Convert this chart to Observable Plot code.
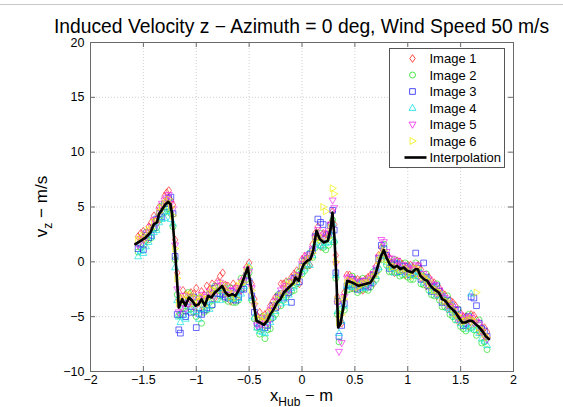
<!DOCTYPE html>
<html>
<head>
<meta charset="utf-8">
<script src="https://cdn.jsdelivr.net/npm/d3@7"></script>
<script src="https://cdn.jsdelivr.net/npm/@observablehq/plot@0.6"></script>
<style>
  html, body { margin: 0; padding: 0; background: #fff; }
  #wrap { position: relative; width: 563px; height: 407px; overflow: hidden; }
  #topline { position: absolute; left: 0; top: 4px; width: 563px; height: 1px; background: #c8c8c8; z-index: 2; }
  svg text { font-family: "Liberation Sans", Arial, Helvetica, sans-serif; }
</style>
</head>
<body>
<div id="wrap"><div id="topline"></div></div>
<script>
// ---------- data ----------
const titleText = "Induced Velocity z \u2212 Azimuth = 0 deg, Wind Speed 50 m/s";
const seriesNames = ["Image 1", "Image 2", "Image 3", "Image 4", "Image 5", "Image 6"];
const lineName = "Interpolation";

const xTicks = [-2, -1.5, -1, -0.5, 0, 0.5, 1, 1.5, 2];
const yTicks = [-10, -5, 0, 5, 10, 15, 20];

// measurement stations, set A (x_Hub, m)
const xs = [-1.55,-1.50,-1.45,-1.40,-1.35,-1.30,-1.26,-1.22,-1.18,-1.15,-1.10,-1.05,-1.00,-0.95,-0.90,-0.85,-0.80,-0.75,-0.70,-0.65,-0.60,-0.55,-0.50,-0.45,-0.40,-0.35,-0.30,-0.25,-0.20,-0.15,-0.10,-0.05,0.00,0.05,0.10,0.15,0.20,0.25,0.29,0.32,0.35,0.40,0.45,0.50,0.55,0.60,0.65,0.70,0.75,0.80,0.85,0.90,0.95,1.00,1.05,1.10,1.15,1.20,1.25,1.30,1.35,1.40,1.45,1.50,1.55,1.60,1.65,1.70,1.75];
// measurement stations, set B (x_Hub, m)
const xsB = [-1.525,-1.475,-1.425,-1.375,-1.325,-1.28,-1.24,-1.20,-1.165,-1.125,-1.075,-1.025,-0.975,-0.925,-0.875,-0.825,-0.775,-0.725,-0.675,-0.625,-0.575,-0.525,-0.475,-0.425,-0.375,-0.325,-0.275,-0.225,-0.175,-0.125,-0.075,-0.025,0.025,0.075,0.125,0.175,0.225,0.27,0.305,0.335,0.375,0.425,0.475,0.525,0.575,0.625,0.675,0.725,0.775,0.825,0.875,0.925,0.975,1.025,1.075,1.125,1.175,1.225,1.275,1.325,1.375,1.425,1.475,1.525,1.575,1.625,1.675,1.725];

const image1 = [2.3,2.8,3.2,4.2,5.0,6.0,6.5,5.2,-1.0,-3.3,-3.0,-2.8,-2.4,-2.7,-2.2,-2.0,-1.8,-1.0,-2.2,-2.0,-2.6,-1.4,-0.1,-3.4,-4.6,-4.8,-4.0,-3.2,-2.0,-1.8,-1.4,-0.8,0.2,-0.3,1.6,3.2,2.6,2.4,4.6,0.6,-5.0,-2.8,-1.2,-1.6,-1.7,-1.6,-1.2,-0.4,1.3,0.6,-0.1,0.1,-0.2,-0.3,-0.5,-0.3,-1.3,-1.4,-1.9,-2.4,-3.0,-3.5,-4.0,-4.7,-5.0,-4.8,-5.3,-6.0,-6.4];
const image2 = [0.9,1.5,2.0,3.0,3.8,4.5,5.0,3.2,-3.0,-4.8,-4.5,-4.3,-5.0,-5.6,-4.4,-4.0,-3.4,-2.8,-3.6,-3.7,-3.5,-2.4,-1.0,-5.2,-6.6,-7.0,-6.1,-4.8,-4.0,-3.2,-2.7,-2.0,-1.1,-0.4,0.4,2.2,1.3,1.5,3.8,-1.5,-7.3,-4.4,-2.5,-2.5,-2.6,-2.5,-2.3,-1.6,0.2,-0.3,-0.9,-1.0,-1.2,-1.4,-1.6,-1.3,-2.1,-2.6,-3.1,-3.5,-4.1,-4.8,-5.3,-5.9,-6.3,-6.0,-6.7,-7.4,-8.0];
const image3 = [1.2,1.1,2.2,3.1,4.4,5.3,5.8,4.4,-4.8,-6.5,-5.0,-4.6,-6.0,-4.8,-4.2,-3.9,-2.9,-3.0,-3.3,-3.4,-3.2,-2.5,-1.8,-4.6,-5.9,-6.0,-5.2,-4.2,-2.9,-2.5,-3.7,-1.4,-0.4,0.3,1.0,3.9,3.4,2.5,4.7,-1.0,-6.8,-3.8,-2.1,-2.1,-2.3,-2.2,-1.9,-0.8,1.5,0.6,-0.3,-0.2,-0.7,-0.9,-1.0,-0.6,-0.1,-2.2,-2.3,-2.7,-3.6,-4.0,-4.4,-5.2,-5.6,-3.2,-4.0,-6.1,-6.8];
const image4 = [0.5,0.8,1.8,2.7,3.6,4.0,4.6,3.5,-3.5,-5.5,-5.2,-4.0,-4.5,-4.3,-4.0,-3.5,-2.6,-2.7,-3.1,-3.4,-3.3,-2.2,-0.4,-5.0,-6.3,-6.5,-5.5,-4.5,-3.8,-3.7,-2.4,-1.9,-0.9,-0.2,0.6,1.5,1.4,1.8,3.5,-1.2,-6.5,-4.0,-2.0,-2.2,-2.0,-2.3,-2.0,-1.3,0.5,0.0,-0.6,-0.7,-0.9,-1.0,-1.2,-0.9,-1.9,-1.7,-2.4,-3.1,-3.2,-4.4,-5.0,-5.6,-5.8,-2.9,-6.2,-7.0,-7.6];
const image5 = [1.5,2.0,2.7,3.8,4.7,5.6,6.1,4.8,-2.5,-4.2,-4.3,-3.2,-3.6,-3.0,-3.2,-2.8,-2.2,-2.1,-2.7,-2.6,-2.4,-1.7,-0.9,-4.0,-5.7,-5.4,-4.4,-3.6,-2.6,-2.2,-1.8,-1.2,-0.2,0.6,1.2,2.9,2.2,2.8,5.6,-0.2,-8.2,-3.2,-1.4,-1.8,-1.9,-1.7,-1.5,-0.6,2.0,0.9,0.3,0.1,-0.3,-0.5,-0.7,-0.4,-1.1,-1.6,-2.1,-2.6,-3.3,-3.8,-4.3,-4.9,-5.2,-5.1,-5.5,-6.4,-7.1];
const image6 = [2.0,2.4,2.9,3.6,4.5,5.3,5.7,4.2,-1.5,-3.6,-3.5,-3.0,-3.3,-3.2,-3.4,-2.6,-2.4,-2.0,-2.8,-2.9,-2.2,-1.9,-0.5,-3.8,-5.2,-5.0,-4.6,-3.9,-3.1,-2.5,-2.0,-1.3,-0.5,0.2,0.8,2.4,5.0,2.2,6.7,0.0,-5.5,-3.4,-1.7,-2.0,-2.2,-1.9,-1.7,-1.1,0.6,0.2,-0.5,-0.6,-0.8,-1.1,-1.3,-0.6,-1.4,-1.8,-2.6,-2.8,-3.6,-3.9,-4.7,-5.1,-5.4,-5.2,-2.8,-6.2,-6.9];

const image1B = [2.6,1.9,3.6,3.9,4.3,6.3,5.6,2.0,-3.5,-2.6,-3.9,-2.9,-4.3,-3.0,-2.5,-3.3,-1.3,-2.1,-3.6,-2.3,-2.6,-0.5,-2.0,-4.9,-6.2,-4.6,-3.6,-4.1,-2.0,-2.9,-1.1,-2.0,0.5,-0.3,2.6,1.4,2.5,3.5,3.4,-3.2,-5.6,-1.2,-2.4,-1.6,-2.6,-1.4,-2.0,0.6,0.5,0.4,-1.0,0.0,-1.2,-0.3,-1.1,-0.7,-2.2,-1.8,-3.1,-2.8,-4.3,-3.7,-5.4,-5.0,-5.9,-4.9,-6.4,-6.0];
const image2B = [1.3,2.7,2.2,3.1,5.1,4.8,4.4,0.2,-4.9,-4.2,-2.8,-4.6,-3.3,-4.6,-3.7,-2.2,-3.1,-3.4,-2.4,-3.7,-1.5,-1.6,-3.5,-6.0,-5.0,-6.2,-5.1,-3.0,-3.5,-1.8,-2.6,-0.9,-0.8,0.8,1.3,2.6,1.1,2.4,1.8,-4.8,-4.3,-2.6,-1.3,-2.8,-1.5,-2.6,-0.9,-0.7,1.6,-0.9,0.2,-1.3,-0.1,-1.6,-0.1,-2.0,-1.1,-3.0,-2.0,-4.1,-3.1,-5.0,-4.3,-6.1,-4.8,-6.2,-5.3,-7.3];
const image3B = [1.6,2.4,2.4,3.9,4.1,5.0,5.9,0.5,-6.2,-4.8,-3.6,-3.2,-4.7,-4.4,-3.0,-2.4,-2.9,-3.2,-2.7,-3.5,-2.5,-1.2,-3.1,-5.6,-5.3,-5.8,-4.0,-3.2,-3.3,-2.8,-1.5,-1.8,0.1,0.7,2.3,3.6,2.2,3.3,2.9,-3.6,-5.8,-2.2,-1.6,-2.5,-1.8,-2.3,-1.2,0.3,1.2,-0.6,-0.1,-0.9,-0.4,-1.2,0.8,-1.6,-1.4,-2.7,-2.2,-3.7,-3.5,-4.6,-4.4,-5.8,-5.0,-3.3,-5.6,-6.3];
const image4B = [1.0,1.4,2.3,2.9,3.9,4.6,3.9,-0.5,-5.0,-3.9,-4.4,-3.3,-5.2,-3.6,-4.3,-2.9,-3.5,-2.3,-3.3,-2.8,-2.9,-1.3,-3.3,-6.0,-6.4,-4.9,-5.0,-3.5,-3.2,-3.0,-2.2,-1.1,-0.6,-0.3,1.6,1.5,1.7,2.5,2.0,-4.5,-5.4,-2.2,-2.3,-1.9,-2.4,-1.7,-1.8,-0.5,0.6,-0.4,-1.0,-0.2,-1.1,-0.5,-1.3,-1.0,-1.5,-2.6,-3.0,-3.0,-4.2,-3.9,-5.3,-5.2,-6.1,-5.9,-6.5,-7.2];
const image5B = [2.1,2.6,3.2,3.4,5.3,5.8,5.3,1.5,-4.6,-3.1,-3.8,-4.1,-3.4,-3.6,-2.7,-3.1,-1.9,-3.0,-2.6,-2.4,-1.8,-0.7,-2.4,-5.8,-5.1,-5.6,-4.2,-3.3,-2.4,-2.6,-1.6,-1.3,0.3,0.4,2.2,2.4,2.6,3.4,4.9,-3.8,-7.4,-1.5,-1.7,-2.3,-1.8,-2.2,-1.1,0.4,1.8,0.3,-0.4,-0.5,-0.9,-0.6,-0.3,-1.5,-1.9,-2.0,-2.9,-3.1,-4.0,-4.1,-5.2,-5.3,-5.1,-5.6,-5.7,-6.8];
const image6B = [2.2,2.1,3.0,3.7,4.9,5.5,5.0,1.2,-3.8,-3.3,-3.0,-3.8,-3.6,-4.0,-2.9,-2.6,-2.6,-2.5,-3.2,-3.3,-2.0,-0.9,-2.6,-5.1,-5.4,-5.3,-4.3,-3.4,-2.9,-2.1,-1.9,-1.4,-0.1,0.3,2.0,2.0,4.6,3.1,6.2,-3.5,-4.8,-1.9,-1.8,-2.3,-2.0,-1.9,-1.4,0.1,1.0,-0.2,-0.4,-0.7,-0.6,-0.9,-0.6,-1.2,-1.6,-2.3,-2.6,-3.4,-3.6,-4.3,-4.9,-5.5,-5.3,-5.4,-6.0,-6.6];

// interpolation curve
const lineX = [-1.575,-1.527,-1.480,-1.433,-1.401,-1.370,-1.354,-1.322,-1.291,-1.265,-1.244,-1.228,-1.196,-1.165,-1.133,-1.102,-1.070,-1.038,-1.007,-0.976,-0.950,-0.919,-0.887,-0.856,-0.824,-0.787,-0.755,-0.723,-0.692,-0.660,-0.629,-0.582,-0.550,-0.513,-0.487,-0.456,-0.430,-0.399,-0.361,-0.329,-0.298,-0.267,-0.235,-0.203,-0.172,-0.140,-0.109,-0.078,-0.061,-0.030,-0.008,0.017,0.049,0.080,0.106,0.137,0.168,0.206,0.244,0.270,0.288,0.307,0.326,0.342,0.364,0.395,0.427,0.475,0.537,0.600,0.648,0.695,0.727,0.749,0.774,0.799,0.830,0.868,0.900,0.931,0.963,0.995,1.042,1.073,1.095,1.120,1.152,1.184,1.215,1.246,1.294,1.326,1.357,1.388,1.420,1.452,1.483,1.515,1.546,1.577,1.609,1.641,1.672,1.704,1.735,1.767];
const lineY = [1.61,1.91,2.2,2.67,3.43,3.6,4.34,4.8,5.26,5.47,5.26,4.35,0.39,-4.17,-3.4,-4.0,-3.25,-3.55,-4.0,-3.86,-3.4,-4.0,-3.1,-3.25,-2.8,-2.5,-2.2,-2.8,-3.1,-2.95,-3.1,-2.3,-1.5,-0.52,-2.03,-3.86,-5.38,-5.53,-5.74,-5.38,-4.77,-4.31,-3.71,-3.4,-2.8,-2.49,-2.19,-1.89,-1.43,-1.73,-0.82,-0.21,0.09,0.25,1.0,2.83,2.07,1.76,1.91,2.98,4.49,2.21,-1.73,-5.99,-5.68,-3.86,-1.73,-1.89,-2.19,-2.03,-1.89,-1.12,-0.06,0.55,1.07,0.39,-0.21,-0.52,-0.36,-0.67,-0.52,-0.82,-0.97,-0.67,-0.67,-1.28,-1.58,-1.73,-2.19,-2.49,-2.8,-3.4,-3.56,-4.01,-4.31,-4.62,-5.07,-5.53,-5.53,-5.38,-5.38,-5.68,-5.93,-6.29,-6.75,-7.05];

// ---------- styling ----------
const COLORS = ["#ff2020", "#20e020", "#2020ff", "#10e0e0", "#f020f0", "#f0f000"];
const sym = (pts) => ({
  draw(ctx, size) {
    const r = Math.sqrt(size / Math.PI);
    ctx.moveTo(pts[0][0] * r, pts[0][1] * r);
    for (let i = 1; i < pts.length; i++) ctx.lineTo(pts[i][0] * r, pts[i][1] * r);
    ctx.closePath();
  }
});
const SYMS = [
  sym([[0, -1.3], [0.9, 0], [0, 1.3], [-0.9, 0]]),           // diamond
  d3.symbolCircle,                                         // circle
  sym([[-0.95, -0.95], [0.95, -0.95], [0.95, 0.95], [-0.95, 0.95]]), // square
  sym([[0, -1.25], [1.15, 0.8], [-1.15, 0.8]]),            // triangle up
  sym([[0, 1.25], [1.15, -0.8], [-1.15, -0.8]]),           // triangle down
  sym([[1.25, 0], [-0.8, -1.15], [-0.8, 1.15]])            // triangle right
];
const R = 3;

const W = 563, H = 407, mL = 90, mR = 50, mT = 42, mB = 36;
const fh = H - mT - mB, fw = W - mL - mR;
const AX = "#6a6a6a";
const fmt = (d) => (d < 0 ? "\u2212" : "") + String(Math.abs(d));

const seriesA = [image1, image2, image3, image4, image5, image6];
const seriesB = [image1B, image2B, image3B, image4B, image5B, image6B];
const dotMarks = seriesA.map((s, k) => {
  const rows = xs.map((x, i) => ({x, y: s[i]}))
    .concat(xsB.map((x, i) => ({x, y: seriesB[k][i]})));
  return Plot.dot(rows, {
    x: "x", y: "y", symbol: SYMS[k], r: R, fill: "none",
    stroke: COLORS[k], strokeWidth: 0.8, strokeOpacity: 0.85
  });
});
const lineData = lineX.map((x, i) => ({x, y: lineY[i]}));

const chart = Plot.plot({
  width: W, height: H,
  marginLeft: mL, marginRight: mR, marginTop: mT, marginBottom: mB,
  style: {background: "#fff", color: "#000", fontFamily: "'Liberation Sans', Arial, sans-serif", fontSize: "12.5px"},
  x: {domain: [-2, 2]},
  y: {domain: [-10, 20]},
  marks: [
    Plot.gridX(xTicks, {stroke: "#c4c4c4", strokeOpacity: 1, strokeDasharray: "1,2", strokeWidth: 0.8}),
    Plot.gridY(yTicks, {stroke: "#c4c4c4", strokeOpacity: 1, strokeDasharray: "1,2", strokeWidth: 0.8}),
    ...dotMarks,
    Plot.line(lineData, {x: "x", y: "y", stroke: "#000", strokeWidth: 2.6, strokeLinejoin: "round"}),
    Plot.frame({stroke: AX}),
    Plot.ruleX(xTicks, {stroke: AX, insetTop: fh - 5}),
    Plot.ruleX(xTicks, {stroke: AX, insetBottom: fh - 5}),
    Plot.ruleY(yTicks, {stroke: AX, insetRight: fw - 5}),
    Plot.ruleY(yTicks, {stroke: AX, insetLeft: fw - 5}),
    Plot.axisX(xTicks, {anchor: "bottom", tickSize: 0, tickPadding: 4, label: null, fill: "#000", tickFormat: fmt}),
    Plot.axisY(yTicks, {anchor: "left", tickSize: 0, tickPadding: 6, label: null, fill: "#000", tickFormat: fmt})
  ]
});

document.getElementById("wrap").appendChild(chart);
chart.style.position = "absolute";
chart.style.left = "0px";
chart.style.top = "0px";

const svg = d3.select(chart);
const xMid = mL + fw / 2, yMid = mT + fh / 2;

// title
svg.append("text").attr("x", xMid).attr("y", 33).attr("text-anchor", "middle")
  .attr("font-size", 19.3).attr("fill", "#000").text(titleText);

// x label with subscript
const xl = svg.append("text").attr("x", xMid).attr("y", 401).attr("text-anchor", "middle")
  .attr("font-size", 16.5).attr("fill", "#000");
xl.append("tspan").text("x");
xl.append("tspan").attr("font-size", 12).attr("dy", 4.5).text("Hub");
xl.append("tspan").attr("dy", -4.5).text(" \u2212 m");

// y label with subscript
const yl = svg.append("text").attr("transform", `translate(47,${yMid}) rotate(-90)`)
  .attr("text-anchor", "middle").attr("font-size", 17).attr("fill", "#000");
yl.append("tspan").text("v");
yl.append("tspan").attr("font-size", 12).attr("dy", 5).text("z");
yl.append("tspan").attr("dy", -5).text(" \u2212 m/s");

// legend
const lg = svg.append("g").attr("text-anchor", "start");
const lx = 389.5, ly = 48.5, lw = 115, lh = 119, rowH = 16.5;
lg.append("rect").attr("x", lx).attr("y", ly).attr("width", lw).attr("height", lh)
  .attr("fill", "#fff").attr("stroke", "#555").attr("stroke-width", 1);
seriesNames.forEach((name, k) => {
  const cy = ly + 10 + rowH * k;
  const p = d3.path();
  SYMS[k].draw(p, Math.PI * R * R);
  lg.append("path").attr("d", p.toString()).attr("transform", `translate(${lx + 23},${cy})`)
    .attr("fill", "none").attr("stroke", COLORS[k]).attr("stroke-width", 0.8);
  lg.append("text").attr("x", lx + 40).attr("y", cy + 4.5).attr("text-anchor", "start")
    .attr("font-size", 13).attr("fill", "#000").text(name);
});
{
  const cy = ly + 10 + rowH * 6;
  lg.append("line").attr("x1", lx + 15).attr("x2", lx + 37).attr("y1", cy).attr("y2", cy)
    .attr("stroke", "#000").attr("stroke-width", 2.6);
  lg.append("text").attr("x", lx + 40).attr("y", cy + 4.5).attr("text-anchor", "start")
    .attr("font-size", 13).attr("fill", "#000").text(lineName);
}
</script>
</body>
</html>
